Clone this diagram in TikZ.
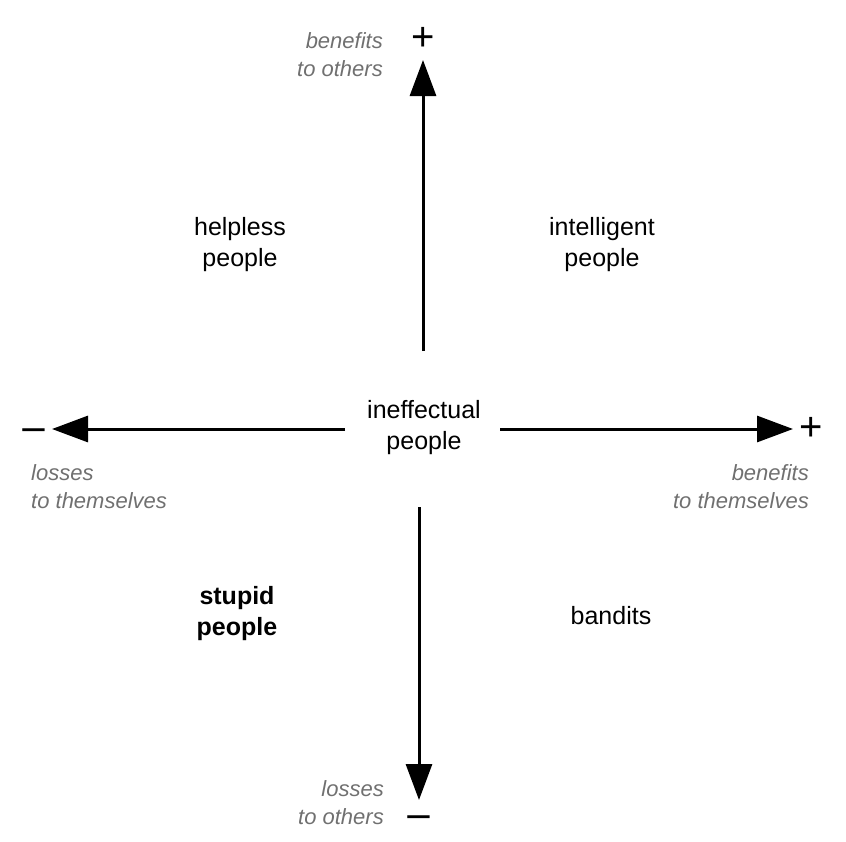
\documentclass[tikz,border=0pt]{standalone}
\usepackage{fontspec}
\setmainfont{Liberation Sans}
\usetikzlibrary{arrows.meta}
\definecolor{labgray}{HTML}{707070}
\tikzset{
  axis/.style={line width=3pt,-{Triangle[length=36pt,width=26pt]}},
  group/.style={align=center,font=\fontsize{25}{31}\selectfont,inner sep=0pt},
  axlabel/.style={font=\fontsize{22}{28}\selectfont\itshape,text=labgray,inner sep=0pt},
  sign/.style={font=\fontsize{40}{40}\selectfont,inner sep=0pt}
}
\begin{document}
\begin{tikzpicture}[x=1pt,y=-1pt]
\useasboundingbox (0,0) rectangle (846,841);
% center and quadrant labels
\node[group] (ineff) at (424,428) {ineffectual\\people};
\node[group] (helpless) at (240,245) {helpless\\people};
\node[group] (intel) at (602,245) {intelligent\\people};
\node[group,font=\fontsize{25}{31}\selectfont\bfseries] (stupid) at (237,614) {stupid\\people};
\node[group] (bandits) at (611,616) {bandits};
% signs
\node[sign] (pT) at (423,39) {+};
\node[sign] (pR) at (811,429) {+};
\node[sign,xscale=1.15] (mL) at (34,436) {−};
\node[sign,xscale=1.15] (mB) at (419,823) {−};
% axis labels
\node[axlabel,anchor=east,align=right] (bo) at (383,55) {benefits\\to others};
\node[axlabel,anchor=west,align=left] (lt) at (31,487) {losses\\to themselves};
\node[axlabel,anchor=east,align=right] (bt) at (809,487) {benefits\\to themselves};
\node[axlabel,anchor=east,align=right] (lo) at (384,803) {losses\\to others};
% axis endpoints
\coordinate (uS) at (423,351); \coordinate (uE) at (423,60);
\coordinate (dS) at (419,507); \coordinate (dE) at (419,800);
\coordinate (lS) at (345,429); \coordinate (lE) at (52,429);
\coordinate (rS) at (500,429); \coordinate (rE) at (793,429);
\draw[axis] (uS) -- (uE);
\draw[axis] (dS) -- (dE);
\draw[axis] (lS) -- (lE);
\draw[axis] (rS) -- (rE);
\end{tikzpicture}
\end{document}
